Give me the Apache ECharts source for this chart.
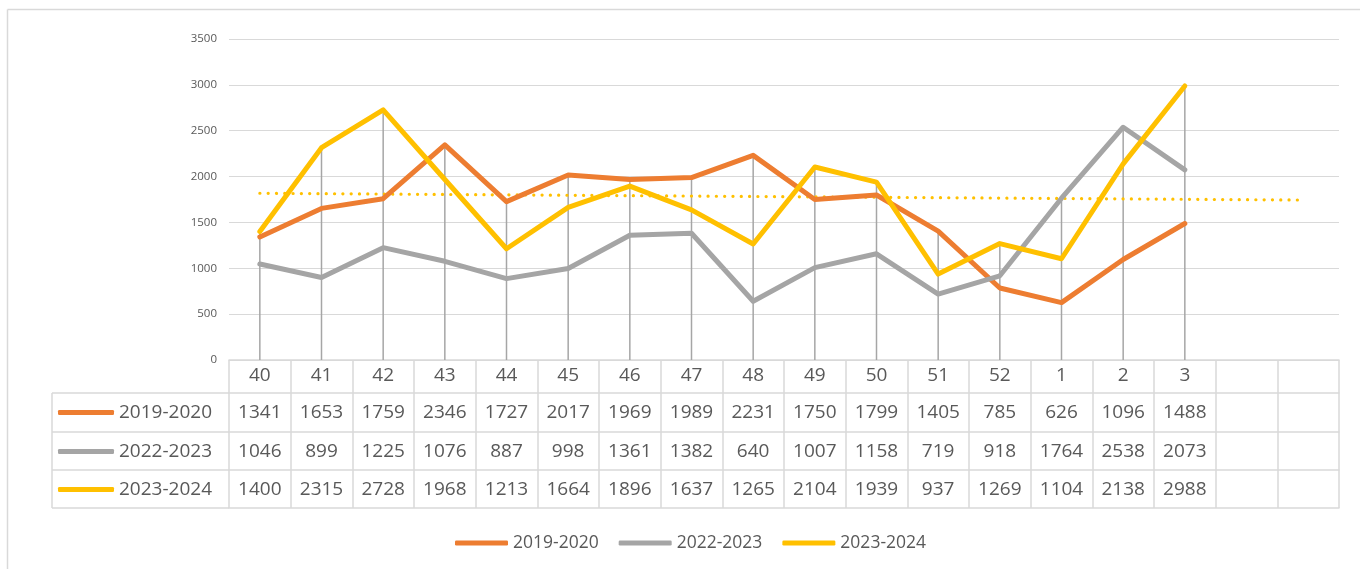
<!DOCTYPE html>
<html>
<head>
<meta charset="utf-8">
<script src="https://cdn.jsdelivr.net/npm/echarts@6/dist/echarts.min.js"></script>
<style>
html,body{margin:0;padding:0;background:#fff;}
#chart{width:1360px;height:569px;}
</style>
</head>
<body>
<div id="chart"></div>
<script>
// ---- data ----
const weeks = ['40','41','42','43','44','45','46','47','48','49','50','51','52','1','2','3','',''];
const seriesNames = ['2019-2020','2022-2023','2023-2024'];
const s2019 = [1341,1653,1759,2346,1727,2017,1969,1989,2231,1750,1799,1405,785,626,1096,1488];
const s2022 = [1046,899,1225,1076,887,998,1361,1382,640,1007,1158,719,918,1764,2538,2073];
const s2023 = [1400,2315,2728,1968,1213,1664,1896,1637,1265,2104,1939,937,1269,1104,2138,2988];
// linear trend line of 2023-2024: [category position, value]
const trendPoints = [[0,1818],[16.9,1744]];
const yTicks = {min:0, max:3500, interval:500};

const colors = ['#ED7D31','#A5A5A5','#FFC000'];
const txt = '#595959';
const border = '#d9d9d9';
const font = 'Open Sans';

const rows = [s2019, s2022, s2023];
const dropData = s2019.map((v,i)=>[i, Math.max(s2019[i], s2022[i], s2023[i])]);

const chart = echarts.init(document.getElementById('chart'), null, {renderer:'canvas'});

const gridLeft = 229, gridRight = 21, gridTop = 39, gridBottom = 209;
const rowLines = [33, 72, 110, 148];

function rowAxis(k){
  return {
    type:'category', data:weeks, position:'bottom', offset:rowLines[k],
    axisLine:{show:true, lineStyle:{color:border, width:1.5}},
    axisTick:{show:false},
    axisLabel:{
      show: k < 3, interval:0, margin:19.5, verticalAlign:'middle',
      color:txt, fontSize:19, fontFamily:font,
      formatter:(v, idx)=> (rows[k] && rows[k][idx] !== undefined) ? String(rows[k][idx]) : ''
    },
    splitLine:{show:false}
  };
}

const legends = seriesNames.map((n,k)=>({
  data:[n], left:58, top: [412,451,489][k] - 9, orient:'horizontal', padding:0,
  icon:'roundRect', itemWidth:56, itemHeight:5, selectedMode:false,
  textStyle:{color:txt, fontSize:19, fontFamily:font}
}));
legends.push({
  data:seriesNames, left:455, top:534, itemGap:20, padding:0,
  icon:'roundRect', itemWidth:53, itemHeight:5, selectedMode:false,
  textStyle:{color:txt, fontSize:17.5, fontFamily:font}
});

const gLines = [];
const tblX0 = 52;
[393, 432, 470, 508].forEach(y=>{
  gLines.push({type:'line', shape:{x1:tblX0, y1:y, x2:gridLeft, y2:y}, style:{stroke:border, lineWidth:1.5}, silent:true});
});
gLines.push({type:'line', shape:{x1:tblX0, y1:393, x2:tblX0, y2:508}, style:{stroke:border, lineWidth:1.5}, silent:true});
// outer chart frame
gLines.push({type:'line', shape:{x1:7.5, y1:9.5, x2:1360, y2:9.5}, style:{stroke:border, lineWidth:1.5}, silent:true});
gLines.push({type:'line', shape:{x1:7.5, y1:9.5, x2:7.5, y2:569}, style:{stroke:border, lineWidth:1.5}, silent:true});

chart.setOption({
  animation:false,
  backgroundColor:'#fff',
  color:colors,
  grid:{left:gridLeft, right:gridRight, top:gridTop, bottom:gridBottom, containLabel:false},
  legend:legends,
  graphic:gLines,
  xAxis:[
    {
      type:'category', data:weeks, boundaryGap:true, position:'bottom',
      axisLine:{show:true, lineStyle:{color:border, width:1.5}},
      axisTick:{show:true, interval:0, length:148, lineStyle:{color:border, width:1.5}},
      axisLabel:{interval:0, margin:16, verticalAlign:'middle', color:txt, fontSize:19, fontFamily:font},
      splitLine:{show:false}
    },
    rowAxis(0), rowAxis(1), rowAxis(2), rowAxis(3),
    {type:'value', min:-0.5, max:17.5, show:false}
  ],
  yAxis:{
    type:'value', min:yTicks.min, max:yTicks.max, interval:yTicks.interval,
    axisLine:{show:false}, axisTick:{show:false},
    axisLabel:{color:txt, fontSize:11.5, fontFamily:font, margin:12, formatter:v=>String(v)},
    splitLine:{lineStyle:{color:border, width:1.2}}
  },
  series:[
    {
      type:'custom', name:'drop', xAxisIndex:0, data:dropData, z:1, silent:true,
      itemStyle:{color:'#a6a6a6'},
      renderItem:(params, api)=>{
        const top = api.coord([api.value(0), api.value(1)]);
        const bot = api.coord([api.value(0), 0]);
        return {type:'line', shape:{x1:top[0], y1:top[1], x2:bot[0], y2:bot[1]},
                style:{stroke:'#a6a6a6', lineWidth:1.5}};
      }
    },
    ...seriesNames.map((n,k)=>({
      type:'line', name:n, data:rows[k], xAxisIndex:0, showSymbol:false, symbol:'none', z:3+k,
      itemStyle:{color:colors[k]},
      lineStyle:{width:5, color:colors[k], cap:'round', join:'round'}
    })),
    {
      type:'line', name:'trend', xAxisIndex:5, data:trendPoints, showSymbol:false, symbol:'none', z:2, silent:true,
      itemStyle:{color:'#FFC000'},
      lineStyle:{width:3.2, color:'#FFC000', type:[0.1, 8.2], cap:'round'}
    }
  ]
});
</script>
</body>
</html>
